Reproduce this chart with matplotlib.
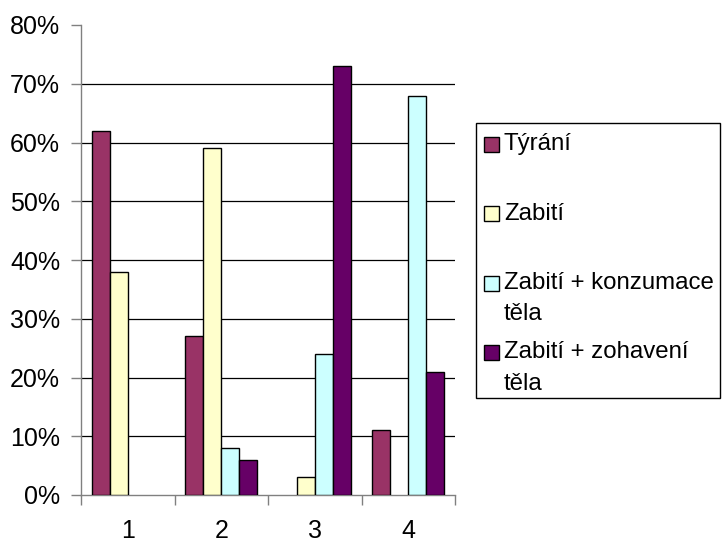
import numpy as np
import matplotlib
matplotlib.use("Agg")
from matplotlib import pyplot as plt
from matplotlib.patches import Rectangle
from matplotlib.ticker import PercentFormatter, FixedLocator

# data
groups = ["1", "2", "3", "4"]
series_names = ["Týrání", "Zabití", "Zabití + konzumace\ntěla", "Zabití + zohavení\ntěla"]
tyrani = [62, 27, 0, 11]
zabiti = [38, 59, 3, 0]
konzumace = [0, 8, 24, 68]
zohaveni = [0, 6, 73, 21]
colors = ["#993366", "#FFFFCC", "#CCFFFF", "#660066"]

plt.rcParams["font.family"] = ["Liberation Sans", "DejaVu Sans"]
plt.rcParams["font.size"] = 18

W, H = 722, 544
fig = plt.figure(figsize=(W / 100, H / 100), dpi=100)
ax = fig.add_axes([81 / W, 1 - 495 / H, (455 - 81) / W, (495 - 25) / H])

x = np.arange(len(groups))
width = 0.193
all_series = [tyrani, zabiti, konzumace, zohaveni]
for i, (vals, col) in enumerate(zip(all_series, colors)):
    offset = (i - 1.5) * width
    bars = ax.bar(x + offset, vals, width, color=col, edgecolor="black",
                  linewidth=1.0, zorder=3)
    # Excel doesn't draw empty bars
    for p in bars.patches:
        if p.get_height() == 0:
            p.set_visible(False)

ax.set_xlim(-0.5, len(groups) - 0.5)
ax.set_ylim(0, 80)
ax.set_yticks(np.arange(0, 81, 10))
ax.yaxis.set_major_formatter(PercentFormatter(decimals=0))
ax.set_xticks(x)
ax.set_xticklabels(groups)
ax.xaxis.set_minor_locator(FixedLocator(np.arange(-0.5, len(groups), 1)))
ax.tick_params(axis="x", which="major", length=0, pad=17)
ax.tick_params(axis="x", which="minor", length=7, width=1, color="#808080", direction="out")
ax.tick_params(axis="y", length=7, width=1, color="#808080", pad=8)

# gridlines (none at the top)
for yv in range(10, 80, 10):
    ax.axhline(yv, color="black", linewidth=0.9, zorder=1)

for side in ["top", "right"]:
    ax.spines[side].set_visible(False)
for side in ["left", "bottom"]:
    ax.spines[side].set_color("#808080")
    ax.spines[side].set_linewidth(1)


# legend drawn by hand, Excel-like spacing
def px(xp, yp):
    return xp / W, 1 - yp / H


fx, fy = px(476, 398)
fig.patches.append(Rectangle((fx, fy), (720 - 476) / W, (398 - 123) / H,
                             transform=fig.transFigure, facecolor="white",
                             edgecolor="black", linewidth=1))
sq = 15
for i, (name, col) in enumerate(zip(series_names, colors)):
    cy = 144 + 69.5 * i
    sx, sy = px(484, cy + sq / 2)
    fig.patches.append(Rectangle((sx, sy), sq / W, sq / H,
                                 transform=fig.transFigure, facecolor=col,
                                 edgecolor="black", linewidth=1))
    for j, line in enumerate(name.split("\n")):
        tx, ty = px(504, cy + 31 * j)
        fig.text(tx, ty, line, ha="left", va="center", fontsize=17.3)

plt.savefig("out.png", dpi=100)
plt.close("all")
